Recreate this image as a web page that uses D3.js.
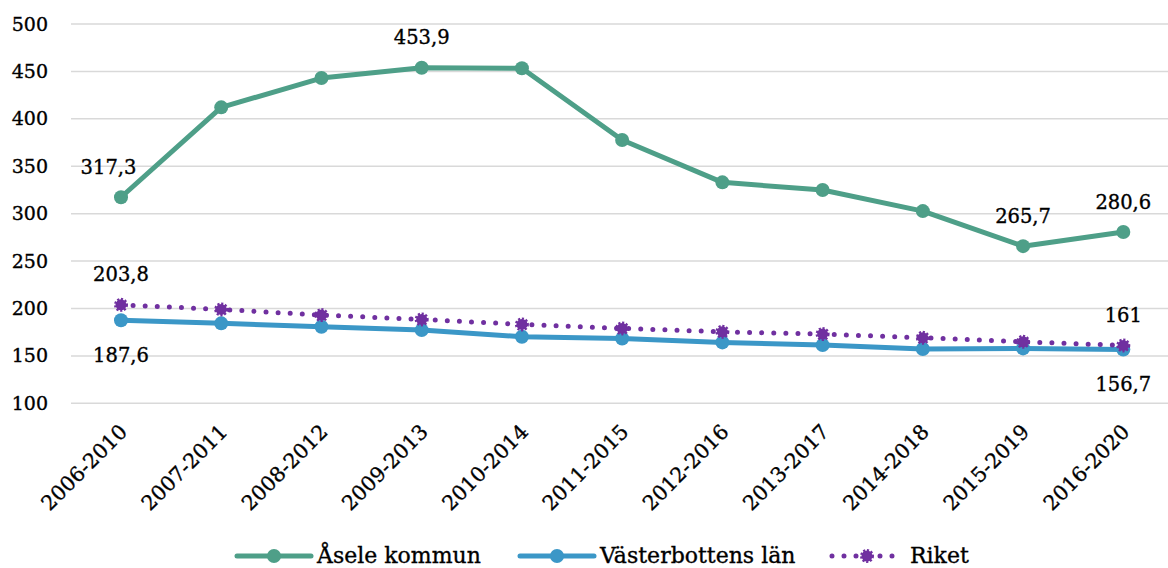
<!DOCTYPE html>
<html>
<head>
<meta charset="utf-8">
<script src="https://cdn.jsdelivr.net/npm/d3@7"></script>
<style>
  html, body { margin: 0; padding: 0; background: #fff; }
  svg { display: block; font-family: "DejaVu Serif", serif; }
  svg text { stroke: #000; stroke-width: 0.35px; }
</style>
</head>
<body>
<svg id="chart" width="1168" height="568"></svg>
<script>
// Periods (five-year rolling windows)
const categories = ["2006-2010","2007-2011","2008-2012","2009-2013","2010-2014","2011-2015",
                    "2012-2016","2013-2017","2014-2018","2015-2019","2016-2020"];

// Series values
const aseleValues = [317.3, 412.1, 443.0, 453.9, 453.3, 377.6, 333.0, 324.9, 302.7, 265.7, 280.6];
const vbValues    = [187.6, 184.3, 180.7, 177.2, 170.2, 168.4, 164.2, 161.4, 157.2, 157.9, 156.7];
const riketValues = [203.8, 199.0, 193.0, 188.5, 183.2, 179.0, 175.4, 173.0, 169.1, 164.9, 161];

const seriesNames = ["Åsele kommun", "Västerbottens län", "Riket"];
const yTicks = [100, 150, 200, 250, 300, 350, 400, 450, 500];

// Which points carry a value label, and on which side
const aseleLabels = [{i: 0, side: "above"}, {i: 3, side: "above"}, {i: 9, side: "above"}, {i: 10, side: "above"}];
const vbLabels    = [{i: 0, side: "below"}, {i: 10, side: "below"}];
const riketLabels = [{i: 0, side: "above"}, {i: 10, side: "above"}];

const colors = { asele: "#4e9f88", vb: "#3b97c7", riket: "#7030a0" };

const svg = d3.select("#chart");

const x = d3.scalePoint().domain(categories).range([121, 1123.3]);
const y = d3.scaleLinear().domain([100, 500]).range([403.3, 24]);

// Horizontal gridlines
svg.append("g")
  .selectAll("line")
  .data(yTicks)
  .join("line")
  .attr("x1", 71).attr("x2", 1168)
  .attr("y1", d => y(d)).attr("y2", d => y(d))
  .attr("stroke", "#d9d9d9")
  .attr("stroke-width", 1.5);

// Y axis labels
const yAxis = d3.axisLeft(y).tickValues(yTicks).tickSize(0).tickPadding(0).tickFormat(d3.format("d"));
svg.append("g")
  .attr("transform", "translate(48,0)")
  .call(yAxis)
  .call(g => g.select(".domain").remove())
  .selectAll("text")
  .attr("font-family", "DejaVu Serif")
  .attr("font-size", 19)
  .attr("fill", "#000");

// X axis labels, rotated (each tick group is already placed at its category)
const xAxis = d3.axisBottom(x).tickSize(0).tickPadding(0);
svg.append("g")
  .call(xAxis)
  .call(g => g.select(".domain").remove())
  .selectAll("text")
  .attr("font-family", "DejaVu Serif")
  .attr("font-size", 20.5)
  .attr("fill", "#000")
  .attr("y", 0).attr("dy", 0)
  .attr("text-anchor", "end")
  .attr("transform", "translate(7,433) rotate(-45)");

const line = d3.line().x((d, i) => x(categories[i])).y(d => y(d));

// Åsele kommun
svg.append("path")
  .datum(aseleValues)
  .attr("d", line)
  .attr("fill", "none")
  .attr("stroke", colors.asele)
  .attr("stroke-width", 5)
  .attr("stroke-linejoin", "round");
svg.append("g").selectAll("circle")
  .data(aseleValues)
  .join("circle")
  .attr("cx", (d, i) => x(categories[i]))
  .attr("cy", d => y(d))
  .attr("r", 7)
  .attr("fill", colors.asele);

// Västerbottens län
svg.append("path")
  .datum(vbValues)
  .attr("d", line)
  .attr("fill", "none")
  .attr("stroke", colors.vb)
  .attr("stroke-width", 5)
  .attr("stroke-linejoin", "round");
svg.append("g").selectAll("circle")
  .data(vbValues)
  .join("circle")
  .attr("cx", (d, i) => x(categories[i]))
  .attr("cy", d => y(d))
  .attr("r", 7)
  .attr("fill", colors.vb);

// Riket (dotted line, burst markers)
svg.append("path")
  .datum(riketValues)
  .attr("d", line)
  .attr("fill", "none")
  .attr("stroke", colors.riket)
  .attr("stroke-width", 5)
  .attr("stroke-linecap", "round")
  .attr("stroke-dasharray", "0 12.1");

function burst(sel, r) {
  sel.attr("r", r)
    .attr("fill", colors.riket)
    .attr("stroke", colors.riket)
    .attr("stroke-width", 3)
    .attr("stroke-dasharray", "2 1.6");
}
svg.append("g").selectAll("circle")
  .data(riketValues)
  .join("circle")
  .attr("cx", (d, i) => x(categories[i]))
  .attr("cy", d => y(d))
  .call(burst, 5.5);

// Value labels
function drawLabels(values, labels, firstDx) {
  svg.append("g").selectAll("text")
    .data(labels)
    .join("text")
    .attr("x", d => x(categories[d.i]) + (d.i === 0 ? firstDx : 0))
    .attr("y", d => y(values[d.i]) + (d.side === "above" ? -23.5 : 41.5))
    .attr("text-anchor", "middle")
    .attr("font-family", "DejaVu Serif")
    .attr("font-size", 19.5)
    .attr("fill", "#000")
    .text(d => String(values[d.i]).replace(".", ","));
}
drawLabels(aseleValues, aseleLabels, -12.5);
drawLabels(vbValues, vbLabels, 0);
drawLabels(riketValues, riketLabels, 0);

// Legend
const legendItems = [
  {name: seriesNames[0], color: colors.asele, x: 237, type: "solid"},
  {name: seriesNames[1], color: colors.vb, x: 520, type: "solid"},
  {name: seriesNames[2], color: colors.riket, x: 830, type: "dotted"}
];
const lg = svg.append("g").attr("transform", "translate(0,556)");
legendItems.forEach(it => {
  const g = lg.append("g").attr("transform", `translate(${it.x},0)`);
  if (it.type === "solid") {
    g.append("line").attr("x1", 0).attr("x2", 74).attr("y1", 0).attr("y2", 0)
      .attr("stroke", it.color).attr("stroke-width", 5).attr("stroke-linecap", "round");
    g.append("circle").attr("cx", 37).attr("cy", 0).attr("r", 7).attr("fill", it.color);
  } else {
    g.append("line").attr("x1", 2).attr("x2", 74).attr("y1", 0).attr("y2", 0)
      .attr("stroke", it.color).attr("stroke-width", 5).attr("stroke-linecap", "round")
      .attr("stroke-dasharray", "0 12");
    g.append("circle").attr("cx", 37).attr("cy", 0).call(burst, 5.5);
  }
  g.append("text").attr("x", 80).attr("y", 7)
    .attr("font-family", "DejaVu Serif")
    .attr("font-size", 22)
    .attr("fill", "#000")
    .text(it.name);
});
</script>
</body>
</html>
